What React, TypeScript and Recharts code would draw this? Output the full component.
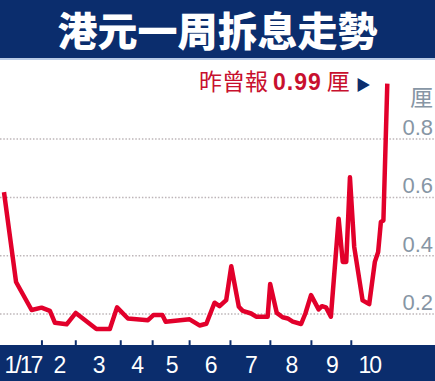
import React from 'react';
import { LineChart, Line, XAxis, YAxis, CartesianGrid } from 'recharts';

// trading-day index (from start of Jan 2017) and 1-week HIBOR (%)
const days = [
  0, 6.2, 14.2, 19.3, 23.6, 26.2, 32.2, 36.9, 47.5, 54.4, 58.1, 63.7, 74, 76.9, 81.4, 83.1,
  95.4, 100.5, 104, 108.2, 110.8, 114.2, 116.8, 120.7, 122.7, 127, 129.6, 135.5, 136.8,
  140.2, 143.2, 145.8, 148.4, 152.7, 154.9, 157.8, 161.7, 163.4, 165.5, 168, 172, 174.1,
  175.9, 177.8, 180, 184.3, 187.7, 190.6, 192.3, 193.7, 195, 197,
];
const rates = [
  0.618, 0.31, 0.214, 0.222, 0.211, 0.17, 0.165, 0.204, 0.149, 0.149, 0.223, 0.185, 0.179,
  0.197, 0.197, 0.174, 0.182, 0.161, 0.167, 0.239, 0.227, 0.248, 0.364, 0.225, 0.211,
  0.202, 0.191, 0.191, 0.303, 0.204, 0.189, 0.185, 0.174, 0.166, 0.202, 0.265, 0.216,
  0.227, 0.223, 0.191, 0.527, 0.379, 0.379, 0.669, 0.43, 0.247, 0.234, 0.379, 0.413,
  0.516, 0.521, 0.99,
];

// month boundaries in trading-day index, and month labels between them
const monthBounds = [0, 19.5, 36.9, 60, 76.4, 95.4, 116.4, 136.9, 158, 178.5, 197];
const monthLabels = ['1/17', '2', '3', '4', '5', '6', '7', '8', '9', '10'];
const yTicks = [0.2, 0.4, 0.6, 0.8];

const NAVY = '#0b2d6d';
const RED = '#e2002b';
const GREY = '#8796a5';

const data = days.map((d, i) => ({ day: d, rate: rates[i] }));
const tickMarks = monthBounds.slice(1, -1);
const labelAt = new Map<number, string>();
monthLabels.forEach((l, i) => labelAt.set((monthBounds[i] + monthBounds[i + 1]) / 2, l));
const xTicks = [...tickMarks, ...Array.from(labelAt.keys())].sort((a, b) => a - b);

const MonthTick = (props: any) => {
  const { x, y, payload } = props;
  const label = labelAt.get(payload.value);
  if (label === undefined) {
    return <line x1={x} x2={x} y1={y - 3} y2={y + 3} stroke={NAVY} strokeWidth={2} />;
  }
  return (
    <text
      x={x}
      y={y + 30}
      textAnchor="middle"
      fill="#fff"
      fontSize={23}
      letterSpacing={-2}
      fontFamily="'Liberation Sans', Arial, sans-serif"
    >
      {label}
    </text>
  );
};

const RateTick = (props: any) => {
  const { y, payload } = props;
  return (
    <text
      x={433}
      y={y - 4}
      textAnchor="end"
      fill={GREY}
      fontSize={22}
      fontFamily="'Liberation Sans', Arial, sans-serif"
    >
      {Number(payload.value).toFixed(1)}
    </text>
  );
};

const App: React.FC = () => {
  return (
    <div
      style={{
        position: 'absolute',
        left: 0,
        top: 0,
        width: 435,
        height: 381,
        background: '#fff',
        overflow: 'hidden',
        fontFamily: "'Noto Sans CJK TC', sans-serif",
      }}
    >
      <div
        style={{
          position: 'absolute',
          left: 0,
          top: 0,
          width: 435,
          height: 58,
          background: NAVY,
          borderBottom: '2px solid #b9cbe6',
          color: '#fff',
          fontSize: 40,
          fontWeight: 900,
          textAlign: 'center',
          lineHeight: '58px',
        }}
      >
        港元一周拆息走勢
      </div>
      <div
        style={{ position: 'absolute', left: 0, top: 345, width: 435, height: 36, background: NAVY }}
      />
      <div style={{ position: 'absolute', left: 0, top: 0 }}>
        <LineChart
          width={435}
          height={381}
          data={data}
          margin={{ top: 80.75, right: 0, left: 0, bottom: 0 }}
        >
          <CartesianGrid
            horizontal
            vertical={false}
            horizontalValues={yTicks}
            stroke="#bdb5b8"
            strokeWidth={1.5}
            strokeDasharray="1.5 1.8"
          />
          <XAxis
            dataKey="day"
            type="number"
            domain={[-2.05, 221]}
            allowDataOverflow
            ticks={xTicks}
            interval={0}
            height={37.75}
            axisLine={false}
            tickLine={false}
            tickSize={0}
            tickMargin={0}
            tick={<MonthTick />}
          />
          <YAxis
            orientation="right"
            width={1}
            type="number"
            domain={[0.1, 1.0]}
            allowDataOverflow
            ticks={yTicks}
            interval={0}
            axisLine={false}
            tickLine={false}
            tickSize={0}
            tickMargin={0}
            tick={<RateTick />}
          />
          <Line
            type="linear"
            dataKey="rate"
            stroke={RED}
            strokeWidth={4.5}
            strokeLinejoin="round"
            dot={false}
            isAnimationActive={false}
          />
        </LineChart>
      </div>
      <div
        style={{
          position: 'absolute',
          left: 410,
          top: 85,
          fontSize: 23,
          color: GREY,
          lineHeight: '23px',
        }}
      >
        厘
      </div>
      <div
        style={{
          position: 'absolute',
          left: 199,
          top: 64,
          color: '#c8102e',
          fontSize: 23,
          lineHeight: '32px',
          whiteSpace: 'nowrap',
        }}
      >
        昨曾報
        <span
          style={{
            fontFamily: "'Liberation Sans', Arial, sans-serif",
            fontWeight: 700,
            fontSize: 23,
            letterSpacing: 1,
            marginLeft: 5,
            marginRight: 5,
          }}
        >
          0.99
        </span>
        厘
        <span style={{ color: NAVY, fontSize: 15, marginLeft: 6, verticalAlign: 'middle' }}>▶</span>
      </div>
    </div>
  );
};

export default App;
